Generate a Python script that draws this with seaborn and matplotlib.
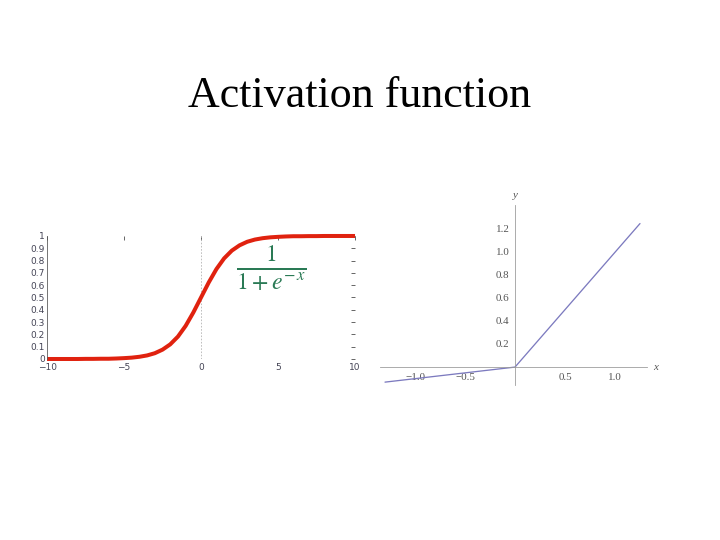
import numpy as np
import pandas as pd
import seaborn as sns
import matplotlib.pyplot as plt

# sigmoid curve, values
sig_x = [-10, -9.5, -9, -8.5, -8, -7.5, -7, -6.5, -6, -5.5, -5, -4.5, -4, -3.5,
         -3, -2.5, -2, -1.5, -1, -0.5, 0, 0.5, 1, 1.5, 2, 2.5, 3, 3.5, 4, 4.5,
         5, 5.5, 6, 6.5, 7, 7.5, 8, 8.5, 9, 9.5, 10]
sig_y = [0.000, 0.000, 0.000, 0.000, 0.000, 0.001, 0.001, 0.002, 0.002, 0.004,
         0.007, 0.011, 0.018, 0.029, 0.047, 0.076, 0.119, 0.182, 0.269, 0.378,
         0.500, 0.622, 0.731, 0.818, 0.881, 0.924, 0.953, 0.971, 0.982, 0.989,
         0.993, 0.996, 0.998, 0.998, 0.999, 0.999, 1.000, 1.000, 1.000, 1.000, 1.000]
sig_xticks = [-10, -5, 0, 5, 10]
sig_yticks = [0, 0.1, 0.2, 0.3, 0.4, 0.5, 0.6, 0.7, 0.8, 0.9, 1]
sig_ylabels = ['0', '0.1', '0.2', '0.3', '0.4', '0.5', '0.6', '0.7', '0.8', '0.9', '1']

# leaky relu, right panel
relu_x = [-1.3, 0, 1.25]
relu_y = [-0.13, 0, 1.24]
relu_xticks = [-1.0, -0.5, 0.5, 1.0]
relu_yticks = [0.2, 0.4, 0.6, 0.8, 1.0, 1.2]

sns.set_style('white')
plt.rcParams['mathtext.fontset'] = 'stix'

fig = plt.figure(figsize=(10, 7.5), dpi=72)
fig.text(0.5, 0.802, 'Activation function', ha='center', va='baseline',
         fontsize=44, family='Liberation Serif', color='black')

# left: sigmoid
ax1 = fig.add_axes([0.0653, 0.3352, 0.4278, 0.2278])
df_sig = pd.DataFrame({'x': sig_x, 'y': sig_y})
ax1.axvline(0, color='#b0b0b0', lw=0.8, ls=(0, (2, 2)))
sns.lineplot(data=df_sig, x='x', y='y', ax=ax1, color='#e0220f', lw=4,
             solid_capstyle='butt', clip_on=False)
ax1.set_xlim(-10, 10)
ax1.set_ylim(0, 1)
ax1.set_xticks(sig_xticks)
ax1.set_yticks(sig_yticks)
ax1.set_yticklabels(sig_ylabels)
ax1.set_xlabel('')
ax1.set_ylabel('')
for s in ['top', 'right', 'bottom']:
    ax1.spines[s].set_visible(False)
ax1.spines['left'].set_color('#555555')
ax1.spines['left'].set_linewidth(0.8)
ax1.tick_params(axis='both', direction='in', length=4, width=0.8, color='#444444',
                labelsize=9, labelcolor='#444455', top=True, right=True)
ax1.tick_params(axis='x', pad=4)
ax1.tick_params(axis='y', pad=2)
ax1.text(4.6, 0.74, r'$\frac{1}{1+e^{-\,x}}$', color='#2a7a55', fontsize=34,
         ha='center', va='center')

# right: leaky relu
ax2 = fig.add_axes([0.5278, 0.287, 0.3708, 0.3333])
df_relu = pd.DataFrame({'x': relu_x, 'y': relu_y})
sns.lineplot(data=df_relu, x='x', y='y', ax=ax2, color='#7c7abf', lw=1.3)
ax2.set_xlim(-1.35, 1.32)
ax2.set_ylim(-0.155, 1.40)
ax2.spines['left'].set_position(('data', 0))
ax2.spines['bottom'].set_position(('data', 0))
ax2.spines['top'].set_visible(False)
ax2.spines['right'].set_visible(False)
for s in ['left', 'bottom']:
    ax2.spines[s].set_color('#999999')
    ax2.spines[s].set_linewidth(0.8)
ax2.set_xticks(relu_xticks)
ax2.set_xticklabels(['\u22121.0', '\u22120.5', '0.5', '1.0'])
ax2.set_yticks(relu_yticks)
ax2.set_yticklabels([f'{v:.1f}' for v in relu_yticks])
ax2.set_xticks(np.arange(-13, 13) / 10, minor=True)
ax2.set_yticks(np.arange(-1, 14) / 20, minor=True)
ax2.tick_params(axis='both', which='major', direction='inout', length=5, width=0.7,
                color='#999999', labelsize=11, labelcolor='#555555', pad=3)
ax2.tick_params(axis='both', which='minor', direction='in', length=2.5, width=0.6,
                color='#aaaaaa')
for lab in ax2.get_xticklabels() + ax2.get_yticklabels():
    lab.set_family('Liberation Serif')
ax2.set_xlabel('')
ax2.set_ylabel('')
ax2.text(1.41, 0.0, 'x', style='italic', family='Liberation Serif', fontsize=11,
         color='#555555', ha='center', va='center', clip_on=False)
ax2.text(0.0, 1.48, 'y', style='italic', family='Liberation Serif', fontsize=11,
         color='#555555', ha='center', va='center', clip_on=False)

fig.savefig('out.png', dpi=72)
